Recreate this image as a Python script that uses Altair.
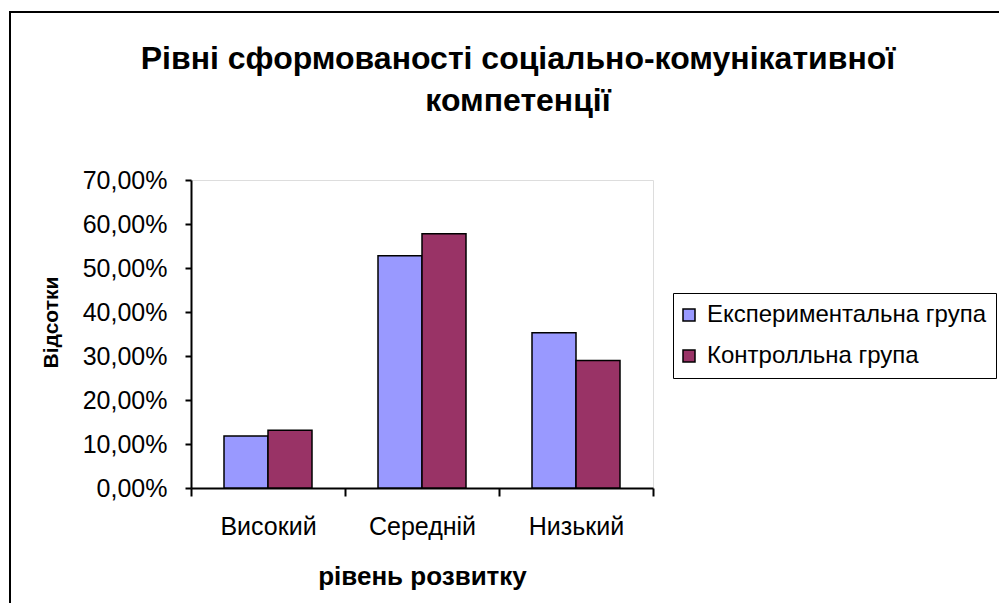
import altair as alt
import pandas as pd

# ---- data ----
categories = ["Високий", "Середній", "Низький"]
groups = ["Експериментальна група", "Контролльна група"]
experimental = [0.118, 0.528, 0.353]
control = [0.131, 0.578, 0.290]
y_ticks = [0.0, 0.1, 0.2, 0.3, 0.4, 0.5, 0.6, 0.7]
colors = ["#9999FF", "#993366"]
title_lines = ["Рівні сформованості соціально-комунікативної", "компетенції"]

rows = []
for c, e, k in zip(categories, experimental, control):
    rows.append({"level": c, "group": groups[0], "value": e})
    rows.append({"level": c, "group": groups[1], "value": k})
df = pd.DataFrame(rows)

FONT = "Liberation Sans"

bars = alt.Chart(df).mark_bar(stroke="black", strokeWidth=1.5).encode(
    x=alt.X(
        "level:N",
        sort=categories,
        scale=alt.Scale(paddingInner=0, paddingOuter=0),
        axis=alt.Axis(
            title="рівень розвитку",
            labelAngle=0,
            tickBand="extent",
            labelFont=FONT,
            labelFontSize=25,
            labelColor="black",
            labelPadding=18,
            tickColor="black",
            tickSize=8,
            tickWidth=2,
            domainColor="black",
            domainWidth=2,
            grid=False,
            titleFont=FONT,
            titleFontSize=26,
            titleFontWeight="bold",
            titleColor="black",
            titleX=231,
            titleY=96,
            titleBaseline="alphabetic",
            titleAlign="center",
        ),
    ),
    xOffset=alt.XOffset(
        "group:N", sort=groups, scale=alt.Scale(paddingInner=0, paddingOuter=0.75)
    ),
    y=alt.Y(
        "value:Q",
        scale=alt.Scale(domain=[0, 0.7]),
        axis=alt.Axis(
            values=y_ticks,
            labelExpr="replace(format(datum.value, '.2%'), '.', ',')",
            labelFont=FONT,
            labelFontSize=25,
            labelColor="black",
            labelPadding=18,
            tickColor="black",
            tickSize=6,
            tickWidth=2,
            domainColor="black",
            domainWidth=2,
            grid=False,
            title="Відсотки",
            titleFont=FONT,
            titleFontSize=21,
            titleFontWeight="bold",
            titleColor="black",
            titleX=-140,
            titleY=142,
            titleAngle=-90,
            titleAlign="center",
            titleBaseline="middle",
        ),
    ),
    color=alt.Color(
        "group:N",
        sort=groups,
        scale=alt.Scale(domain=groups, range=colors),
        legend=alt.Legend(
            title=None,
            orient="none",
            legendX=482,
            legendY=113,
            direction="vertical",
            strokeColor="black",
            fillColor="white",
            padding=10,
            symbolType="square",
            symbolSize=144,
            symbolOffset=-6,
            symbolStrokeColor="black",
            symbolStrokeWidth=1.5,
            symbolOpacity=1,
            labelFont=FONT,
            labelFontSize=24,
            labelColor="black",
            labelOffset=6,
            rowPadding=17,
            labelLimit=400,
        ),
    ),
)

frame = alt.Chart(pd.DataFrame({"f": [0]})).mark_rect(
    filled=False, stroke="black", strokeWidth=2, clip=False
).encode(
    x=alt.value(-181), x2=alt.value(1010), y=alt.value(-168), y2=alt.value(620)
)

chart = alt.layer(frame, bars).properties(
    width=462,
    height=308,
    padding={"left": 183, "top": 172, "right": 346, "bottom": 115},
    autosize=alt.AutoSizeParams(type="none"),
    title=alt.TitleParams(
        text=title_lines,
        font=FONT,
        fontSize=32,
        fontWeight="bold",
        color="black",
        anchor="middle",
        baseline="alphabetic",
        dx=96,
        dy=132,
        lineHeight=42,
        offset=0,
    ),
).configure_view(
    fill="#C0C0C0", stroke="#999999", strokeWidth=1
).configure(background="white")

chart.save("out.html", embed_options={"renderer": "svg", "actions": False})
